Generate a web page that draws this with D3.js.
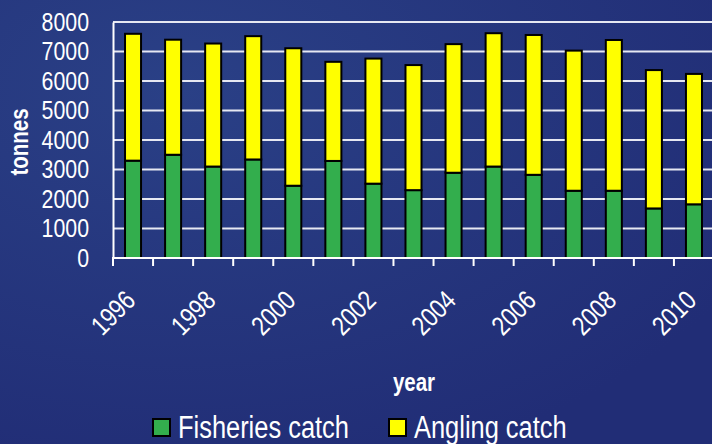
<!DOCTYPE html>
<html>
<head>
<meta charset="utf-8">
<script src="https://cdn.jsdelivr.net/npm/d3@7"></script>
<style>
  html, body { margin: 0; padding: 0; }
  body { width: 712px; height: 444px; overflow: hidden; }
  svg text { font-family: "Liberation Sans", Arial, sans-serif; fill: #fff; }
</style>
</head>
<body>
<div id="chart"></div>
<script>
// Catch data (tonnes)
const years = ['1996', '1997', '1998', '1999', '2000', '2001', '2002', '2003',
               '2004', '2005', '2006', '2007', '2008', '2009', '2010'];
const fisheries = [3300, 3500, 3100, 3340, 2450, 3290, 2520, 2300, 2890, 3100, 2820, 2280, 2280, 1680, 1820];
const angling = [4300, 3900, 4170, 4180, 4660, 3360, 4240, 4240, 4360, 4520, 4740, 4750, 5110, 4690, 4420];
const yTicks = [0, 1000, 2000, 3000, 4000, 5000, 6000, 7000, 8000];
const seriesNames = ['Fisheries catch', 'Angling catch'];
const seriesColors = ['#33ae4d', '#ffff00'];

const width = 712, height = 444;
const margin = {top: 22, right: -2, bottom: 186, left: 113};

// the original font is a narrow sans, squeeze the glyphs to match
function narrow(sel, k) {
    sel.each(function() {
        const len = this.getComputedTextLength();
        d3.select(this)
            .attr('textLength', len * (k || 0.82))
            .attr('lengthAdjust', 'spacingAndGlyphs');
    });
}

const svg = d3.select('#chart').append('svg')
    .attr('width', width)
    .attr('height', height);

// background
const defs = svg.append('defs');
const grad = defs.append('radialGradient').attr('id', 'bg')
    .attr('cx', '25%').attr('cy', '20%').attr('r', '90%');
grad.append('stop').attr('offset', '0%').attr('stop-color', '#2a4086');
grad.append('stop').attr('offset', '100%').attr('stop-color', '#212d76');
svg.append('rect').attr('width', width).attr('height', height).attr('fill', 'url(#bg)');

const x = d3.scaleBand()
    .domain(years)
    .range([margin.left, width - margin.right])
    .paddingInner(0.6)
    .paddingOuter(0.3);

const y = d3.scaleLinear()
    .domain([0, 8000])
    .range([height - margin.bottom, margin.top]);

// gridlines
svg.append('g')
    .selectAll('line')
    .data(yTicks.slice(1))
    .enter().append('line')
    .attr('x1', margin.left)
    .attr('x2', width)
    .attr('y1', d => y(d))
    .attr('y2', d => y(d))
    .attr('stroke', '#e6e8f2')
    .attr('stroke-width', 2);

// stacked bars
const rows = years.map((yr, i) => ({year: yr, fisheries: fisheries[i], angling: angling[i]}));
const stack = d3.stack().keys(['fisheries', 'angling'])(rows);

svg.append('g')
    .selectAll('g')
    .data(stack)
    .enter().append('g')
    .attr('fill', (d, i) => seriesColors[i])
    .selectAll('rect')
    .data(d => d)
    .enter().append('rect')
    .attr('x', d => x(d.data.year))
    .attr('width', x.bandwidth())
    .attr('y', d => y(d[1]))
    .attr('height', d => y(d[0]) - y(d[1]))
    .attr('stroke', '#000')
    .attr('stroke-width', 2);

// y axis
const yAxis = svg.append('g')
    .attr('transform', `translate(${margin.left},0)`)
    .call(d3.axisLeft(y).tickValues(yTicks).tickFormat(d3.format('d')).tickSize(0).tickPadding(24));
yAxis.select('.domain').attr('stroke', '#fff').attr('stroke-width', 2);
yAxis.selectAll('text')
    .attr('font-size', 26)
    .attr('font-family', null)
    .attr('fill', '#fff')
    .call(narrow);

// x axis: band boundary ticks
const step = x.step();
const bounds = d3.range(years.length + 1).map(i => margin.left + i * step);
svg.append('line')
    .attr('x1', margin.left - 1).attr('x2', width)
    .attr('y1', y(0)).attr('y2', y(0))
    .attr('stroke', '#fff').attr('stroke-width', 2);
svg.append('g')
    .selectAll('line')
    .data(bounds)
    .enter().append('line')
    .attr('x1', d => d).attr('x2', d => d)
    .attr('y1', y(0)).attr('y2', y(0) + 8)
    .attr('stroke', '#fff').attr('stroke-width', 2);

// rotated year labels every second year
svg.append('g')
    .selectAll('text')
    .data(years.filter((d, i) => i % 2 === 0))
    .enter().append('text')
    .attr('transform', d => `translate(${x(d) + x.bandwidth() / 2 + 4},${y(0) + 44}) rotate(-45)`)
    .attr('text-anchor', 'end')
    .attr('font-size', 27)
    .text(d => d)
    .call(narrow);

// axis titles
svg.append('text')
    .attr('transform', `translate(28,${(y(0) + y(8000)) / 2 + 2}) rotate(-90)`)
    .attr('text-anchor', 'middle')
    .attr('font-size', 25)
    .attr('font-weight', 'bold')
    .text('tonnes')
    .call(narrow);

svg.append('text')
    .attr('x', 414)
    .attr('y', 391)
    .attr('text-anchor', 'middle')
    .attr('font-size', 25)
    .attr('font-weight', 'bold')
    .text('year')
    .call(narrow);

// legend
const legendX = [153, 389];
const legend = svg.append('g')
    .selectAll('g')
    .data(seriesNames)
    .enter().append('g')
    .attr('transform', (d, i) => `translate(${legendX[i]},419)`);
legend.append('rect')
    .attr('width', 17).attr('height', 17)
    .attr('fill', (d, i) => seriesColors[i])
    .attr('stroke', '#000').attr('stroke-width', 2);
legend.append('text')
    .attr('x', 25)
    .attr('y', 19)
    .attr('font-size', 31)
    .text(d => d)
    .call(narrow);
</script>
</body>
</html>
